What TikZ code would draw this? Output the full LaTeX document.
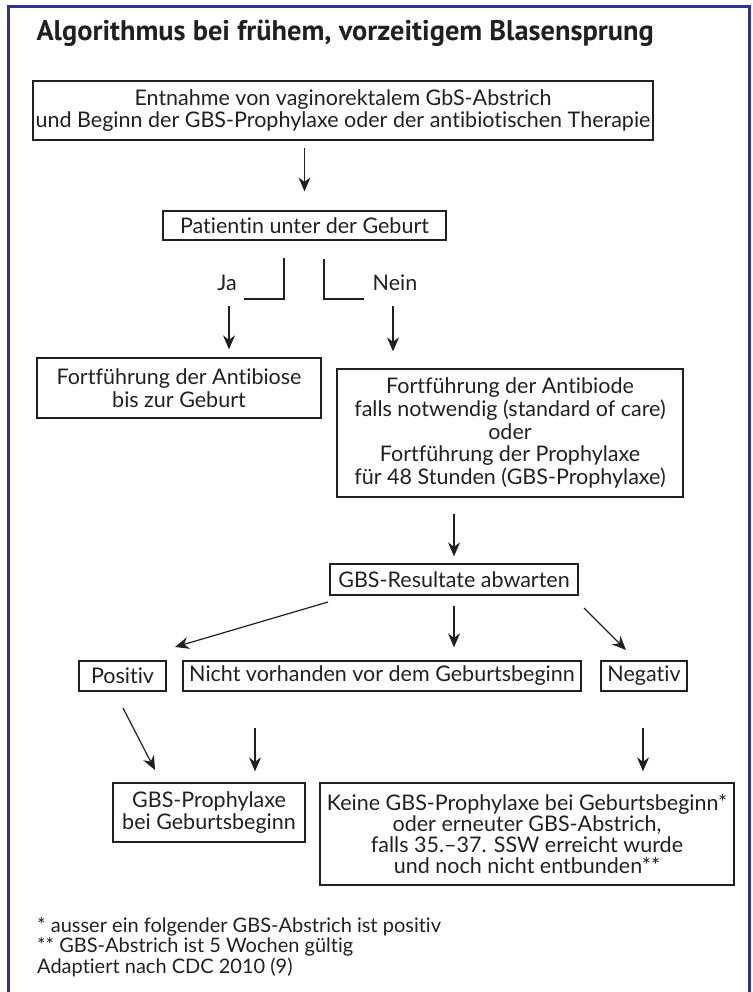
\documentclass[tikz,border=0pt]{standalone}
\usepackage{fontspec}
\setmainfont{Lato}[Ligatures=NoCommon]
\newfontfamily\titlefont{PT Sans}
\usetikzlibrary{arrows.meta}
\definecolor{frameblue}{RGB}{48,50,150}
\definecolor{ink}{RGB}{35,31,32}

\begin{document}
\begin{tikzpicture}[x=1pt,y=-1pt,
	box/.style={draw=ink,line width=1.3pt,align=center,inner sep=0pt,text=ink,font=\fontsize{21.5}{22.7}\selectfont},
	lbl/.style={text=ink,font=\fontsize{21.5}{22.7}\selectfont},
	arr/.style={draw=ink,line width=1.2pt,-{Stealth[length=14pt,width=12pt]}},
	elbow/.style={draw=ink,line width=1.2pt}]
	
	\useasboundingbox (0,0) rectangle (752,992);
	\draw[frameblue,line width=3pt] (8,1000) -- (8,7) -- (749,7) -- (749,1000);
	
	\node[anchor=base west,text=ink,font=\titlefont\bfseries\fontsize{28.4}{32}\selectfont] (title) at (33,41) {Algorithmus bei frühem, vorzeitigem Blasensprung};
	
	\node[box,minimum width=620pt,minimum height=59pt] (ent)   at (343,110.5) {Entnahme von vaginorektalem GbS-Abstrich\\und Beginn der GBS-Prophylaxe oder der antibiotischen Therapie};
	\node[box,minimum width=283pt,minimum height=29pt] (pat)   at (304.5,225.5) {Patientin unter der Geburt};
	\node[box,minimum width=284pt,minimum height=60pt] (fab)   at (179,388) {Fortführung der Antibiose\\bis zur Geburt};
	\node[box,minimum width=346pt,minimum height=128pt] (fpro) at (510,433) {Fortführung der Antibiode\\falls notwendig (standard of care)\\oder\\Fortführung der Prophylaxe\\für 48 Stunden (GBS-Prophylaxe)};
	\node[box,minimum width=248pt,minimum height=31pt] (res)   at (454,579.5) {GBS-Resultate abwarten};
	\node[box,minimum width=87pt,minimum height=30pt]  (pos)   at (122.5,676) {Positiv};
	\node[box,minimum width=398pt,minimum height=30pt] (nv)    at (382,676) {Nicht vorhanden vor dem Geburtsbeginn};
	\node[box,minimum width=86pt,minimum height=30pt]  (neg)   at (644,676) {Negativ};
	\node[box,minimum width=192pt,minimum height=59pt] (gbsp)  at (209,812.5) {GBS-Prophylaxe\\bei Geburtsbeginn};
	\node[box,minimum width=414pt,minimum height=102pt] (keine) at (527,834) {Keine GBS-Prophylaxe bei Geburtsbeginn*\\[-2pt]oder erneuter GBS-Abstrich,\\[-2pt]falls 35.–37. SSW erreicht wurde\\[-2pt]und noch nicht entbunden**};
	
	\node[lbl] (ja)   at (227,283) {Ja};
	\node[lbl] (nein) at (395,283) {Nein};
	
	\node[anchor=north west,align=left,inner sep=0pt,text=ink,font=\fontsize{20}{20.5}\selectfont] (notes) at (37,917) {* ausser ein folgender GBS-Abstrich ist positiv\\** GBS-Abstrich ist 5 Wochen gültig\\Adaptiert nach CDC 2010 (9)};
	
	% free ends of the arrows
	\coordinate (jatop)   at (284,258);
	\coordinate (jaleft)  at (244,299);
	\coordinate (neintop) at (324,259);
	\coordinate (neinend) at (364,299);
	\coordinate (jastart)   at (229,306);
	\coordinate (neinstart) at (393,306);
	\coordinate (respos)  at (328,602);
	\coordinate (posend)  at (175,647);
	\coordinate (resneg)  at (584,608);
	\coordinate (negend)  at (626,650);
	\coordinate (posstart) at (123,708);
	\coordinate (posgbs)   at (155,770);
	\coordinate (nvstart)  at (255,728);
	\coordinate (negstart) at (643,728);
	
	\draw[arr,shorten <=7pt,shorten >=19pt] (ent.south -| pat.north) -- (pat.north);
	\draw[elbow] (jatop) |- (jaleft);
	\draw[elbow] (neintop) |- (neinend);
	\draw[arr,shorten >=8pt] (jastart) -- (jastart |- fab.north);
	\draw[arr,shorten >=17pt] (neinstart) -- (neinstart |- fpro.north);
	\draw[arr,shorten <=16pt,shorten >=7pt] (res.north |- fpro.south) -- (res.north);
	\draw[arr] (respos) -- (posend);
	\draw[arr,shorten <=10pt,shorten >=13pt] (res.south) -- (res.south |- nv.north);
	\draw[arr] (resneg) -- (negend);
	\draw[arr] (posstart) -- (posgbs);
	\draw[arr,shorten >=11pt] (nvstart) -- (nvstart |- gbsp.north);
	\draw[arr,shorten >=11pt] (negstart) -- (negstart |- keine.north);
	
\end{tikzpicture}
\end{document}
